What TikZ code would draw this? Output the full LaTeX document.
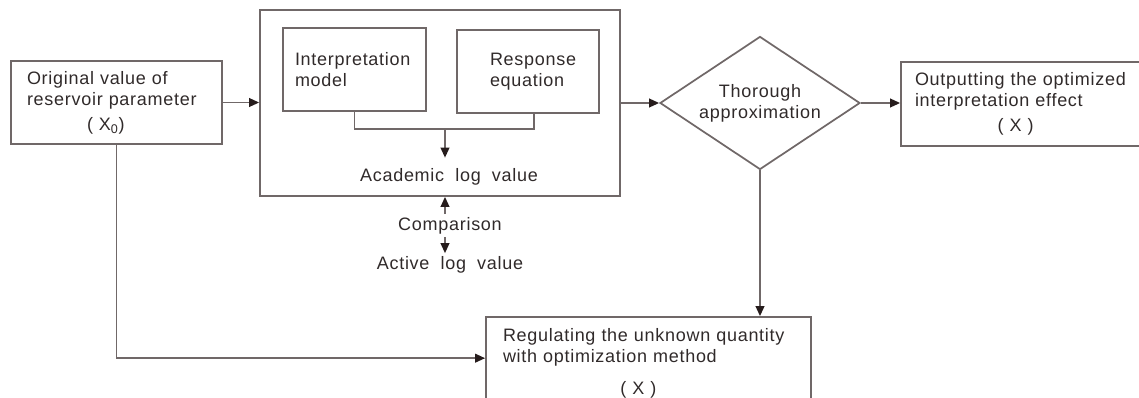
\documentclass[tikz,border=0pt]{standalone}
\usepackage{fontspec}
\setmainfont{Liberation Sans}[LetterSpace=4]
\usepackage{tikz}
\usetikzlibrary{shapes.geometric,arrows.meta,positioning,calc}
\definecolor{linegrey}{RGB}{112,104,104}
\definecolor{txtgrey}{RGB}{48,42,42}
\definecolor{tipdark}{RGB}{38,28,28}
\newcommand{\wsp}{\hspace{0.62em}}

\begin{document}
\begin{tikzpicture}[x=0.75pt,y=-0.75pt,font=\fontsize{13.5}{15.8}\selectfont,text=txtgrey,
  box/.style={draw=linegrey,line width=1.3pt,rectangle,inner ysep=0pt,align=left},
  flow/.style={draw=linegrey,line width=1.3pt,-{Triangle[length=7.5pt,width=6.5pt,color=tipdark]}},
  wire/.style={draw=linegrey,line width=1.3pt},
  plain/.style={inner xsep=0pt,inner ysep=2pt}]
\useasboundingbox (0,0) rectangle (1139,397);
% ---------- input and forward model ----------
\node[box,minimum height=62.25pt,text width=134.25pt,inner xsep=12pt] (orig) at (116.5,102.5)
  {Original value of\\reservoir parameter\\[3pt]\hspace*{45pt}( X\textsubscript{0})};
\node[box,minimum width=270pt,minimum height=139.5pt] (model) at (440,103) {};
\node[box,minimum height=62.25pt,text width=89.25pt,inner xsep=9pt] (interp) at (354.5,69.5)
  {Interpretation\\model};
\node[box,minimum height=62.25pt,text width=57pt,inner xsep=24.75pt] (resp) at (528,71.5)
  {Response\\equation};
\coordinate (join) at (445,129);
\draw[wire] (interp.south) |- (join) -| ([xshift=4.5pt]resp.south);
\node[plain,inner ysep=8pt] (acad) at (449,177) {Academic\wsp log\wsp value};
\draw[flow] (join) -- (join |- acad.north);
% ---------- comparison with the measured log ----------
\node[plain] (cmp) at (450,225.5) {Comparison};
\node[plain] (act) at (450,264.5) {Active\wsp log\wsp value};
\coordinate (cmpx) at (445,225.5);
\draw[flow] (cmpx |- cmp.north) -- (cmpx |- model.south);
\draw[flow] (cmpx |- cmp.south) -- (cmpx |- act.north);
% ---------- decision and output ----------
\node[draw=linegrey,line width=1.3pt,diamond,aspect=1.5,minimum width=150pt,minimum height=99.75pt,
  inner sep=0pt,align=center] (approx) at (760,103) {Thorough\\approximation};
\node[box,minimum height=63pt,text width=165.75pt,inner xsep=10.5pt] (outp) at (1025.5,104)
  {Outputting the optimized\\interpretation effect\\[3pt]\hspace*{62pt}( X )};
\node[box,minimum height=69.75pt,text width=218.25pt,inner xsep=12.75pt] (regul) at (648.5,363.5)
  {Regulating the unknown quantity\\with optimization method\\[8pt]\hspace*{88pt}( X )};
\draw[flow] (orig.east) -- (orig.east -| model.west);
\draw[flow] (model.east) -- (approx.west);
\draw[flow] (approx.east) -- (approx.east -| outp.west);
\draw[flow] (approx.south) -- (approx.south |- regul.north);
\draw[flow] (orig.south) |- ([yshift=4pt]regul.west);
\end{tikzpicture}
\end{document}
